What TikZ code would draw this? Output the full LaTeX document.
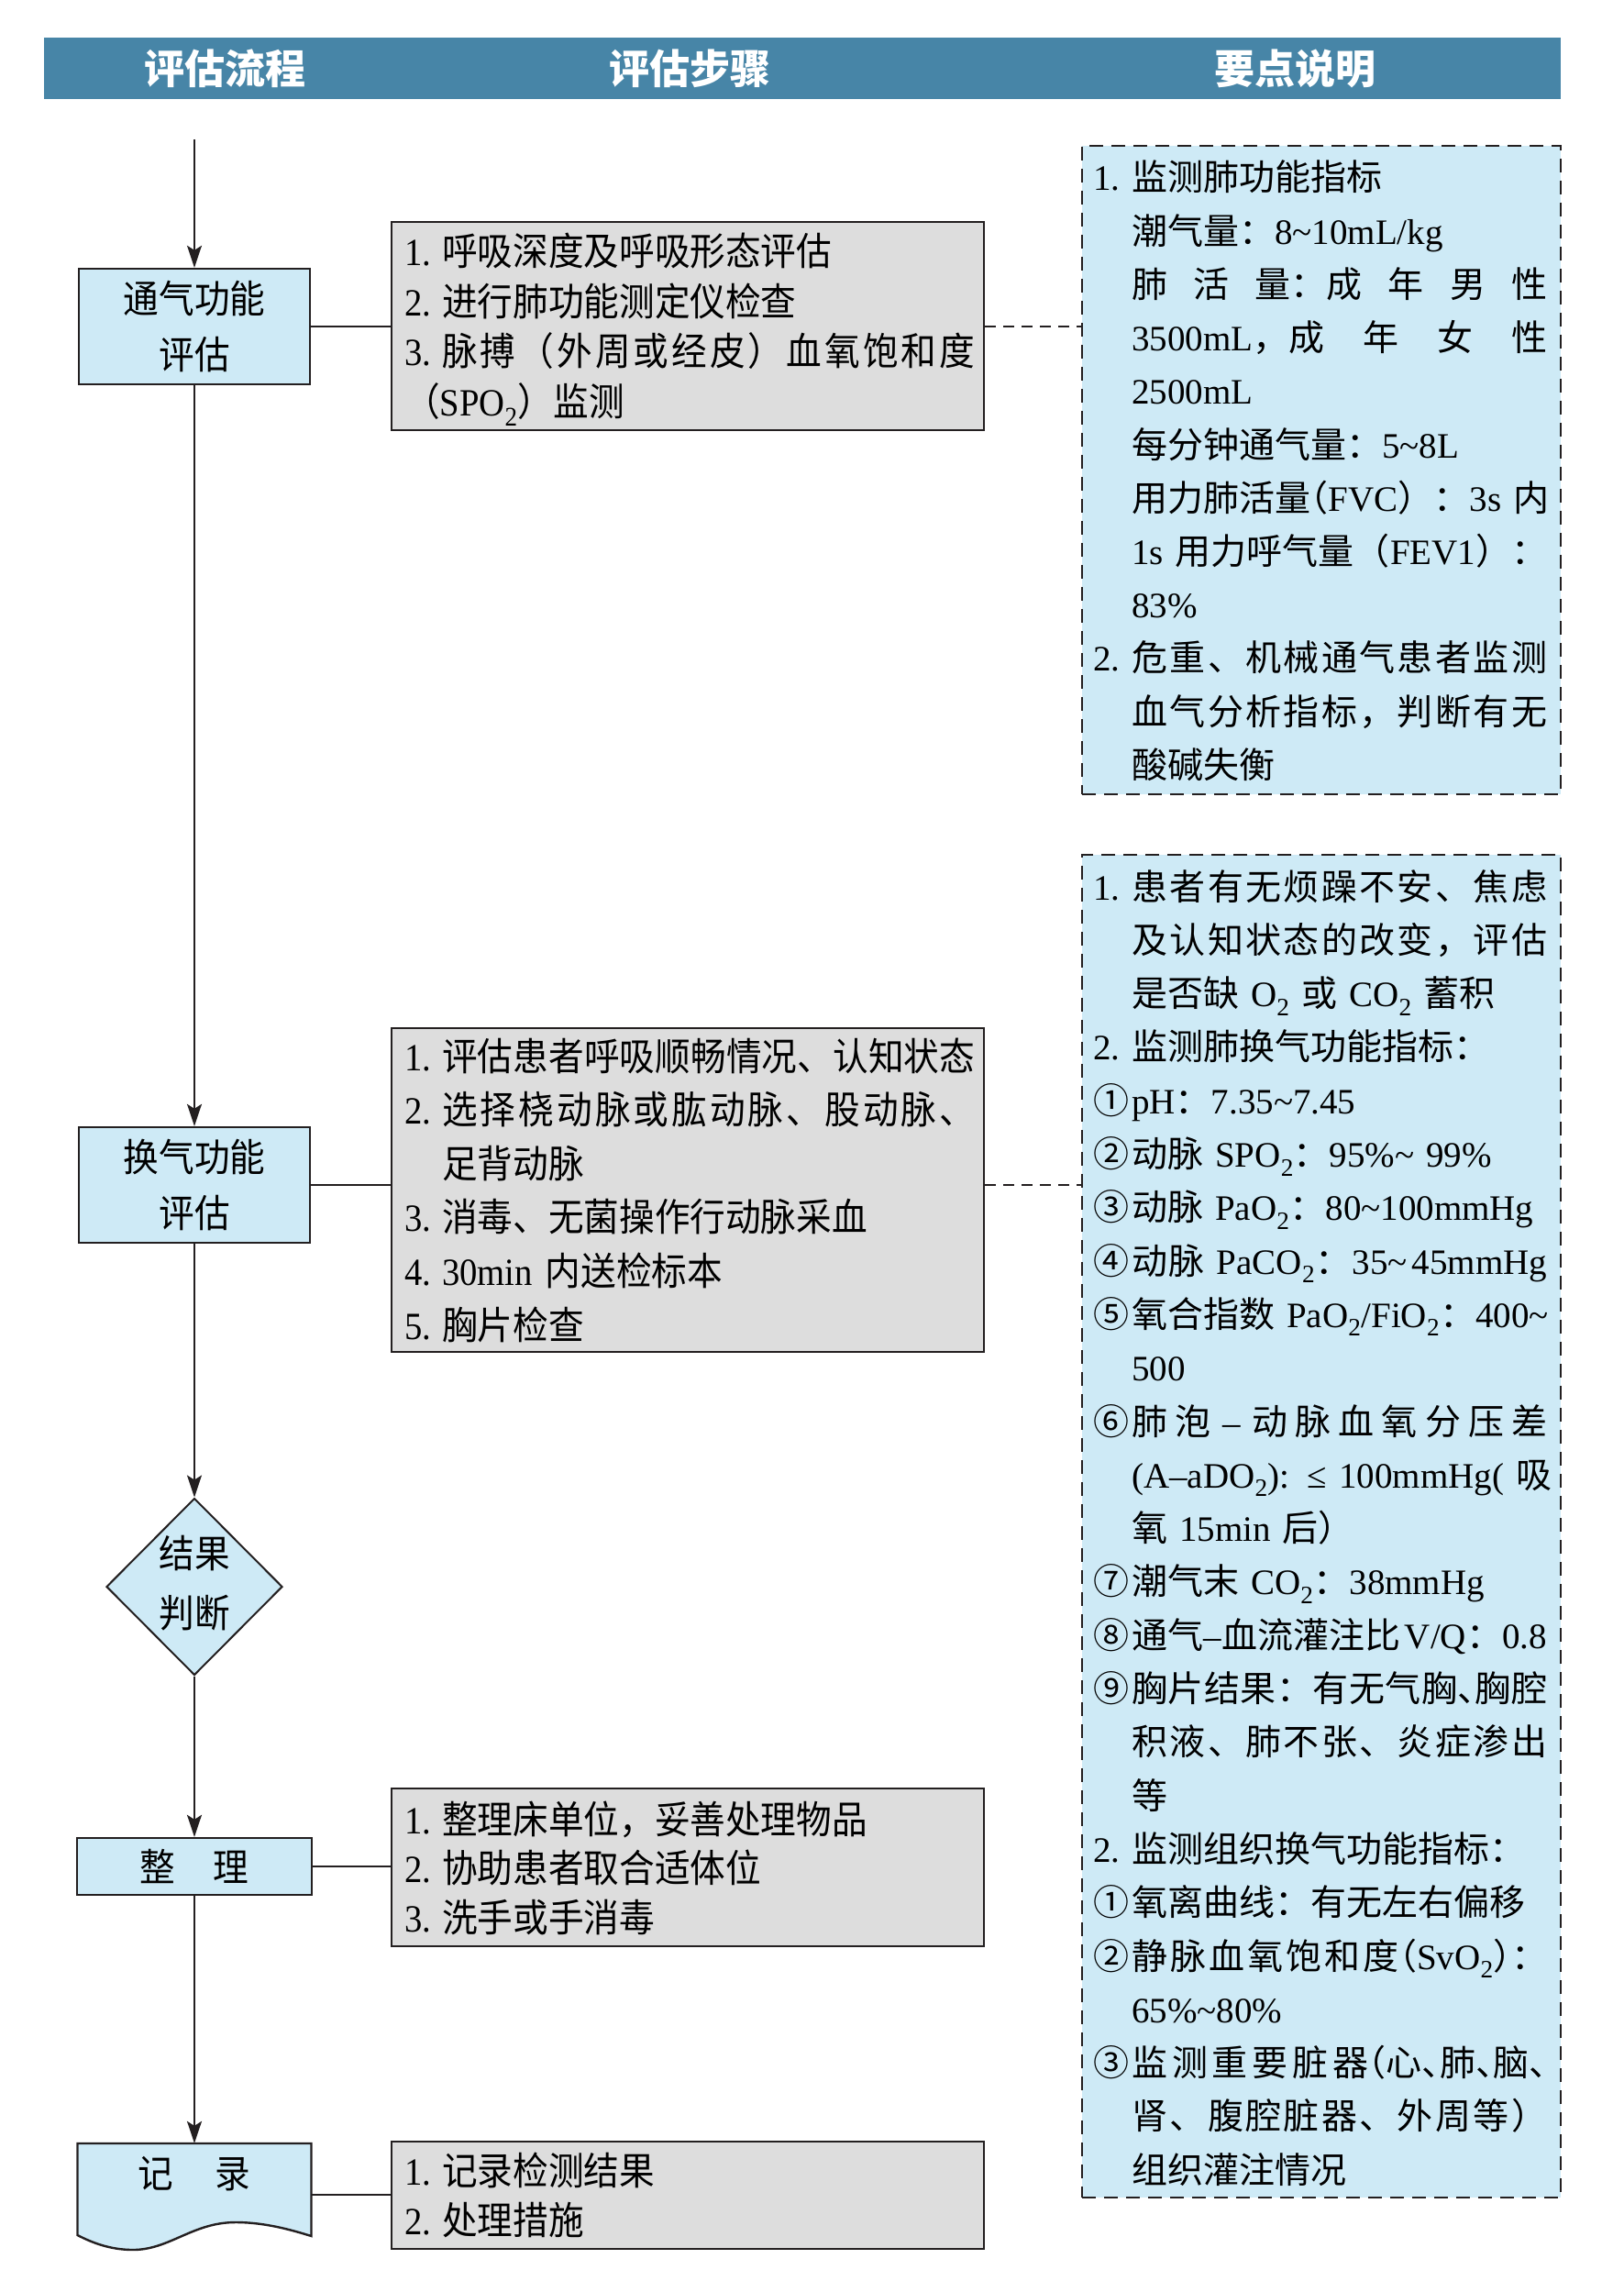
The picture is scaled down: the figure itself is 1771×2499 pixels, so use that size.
\documentclass[tikz,border=0pt]{standalone}
\usepackage{fontspec}
\setmainfont{Liberation Serif}
\newfontfamily\cjkN{Noto Sans CJK SC}
\newfontfamily\cjkG{Noto Sans CJK SC}[FakeStretch=0.92]
\newfontfamily\cjkH{Noto Sans CJK SC}[RawFeature={+halt}]
\newfontfamily\latG{Liberation Serif}[FakeStretch=0.92]
\usetikzlibrary{shapes.geometric,arrows.meta}

% automatic switching between Latin and CJK fonts
\XeTeXinterchartokenstate=1
\chardef\CJKcls=10
\newcount\cjkcnt
\def\setcjkrange#1#2{\cjkcnt=#1\relax
  \loop\XeTeXcharclass\cjkcnt=\CJKcls\relax
  \ifnum\cjkcnt<#2\relax\advance\cjkcnt by 1\relax\repeat}
\setcjkrange{"4E00}{"9FFF}
\setcjkrange{"3000}{"303F}
\setcjkrange{"FF00}{"FFEF}
\setcjkrange{"2460}{"24FF}
\XeTeXcharclass"2013=0
\XeTeXcharclass"2014=0
\XeTeXcharclass"2264=0
\def\curcjk{\cjkN}
\def\curlat{\rmfamily}
\def\cjkglue{\hskip0pt plus 0.25em\relax}
\XeTeXinterchartoks 0 \CJKcls = {\cjkglue\curcjk}
\XeTeXinterchartoks 4095 \CJKcls = {\curcjk}
\XeTeXinterchartoks \CJKcls 0 = {\cjkglue\curlat}
\XeTeXinterchartoks \CJKcls 4095 = {\curlat}
\XeTeXinterchartoks \CJKcls \CJKcls = {\cjkglue}

\newcommand\gset{\latG\def\curcjk{\cjkG}\def\curlat{\latG}}
\newcommand\xNB[1]{\makebox[42pt][l]{#1}}
\newcommand\xNG[1]{\makebox[41pt][l]{#1}}
\newcommand\xJD[1]{\makebox[453pt][s]{#1}}
\newcommand\xJG[1]{\makebox[581pt][s]{#1}}
\newcommand\xID{\hspace*{42pt}}
\newcommand\xIG{\hspace*{41pt}}
\newcommand\xtl{{\char"7E}}
\newcommand\xhp[1]{{\def\curcjk{\cjkH}\cjkH#1}}

\definecolor{hdr}{RGB}{71,133,167}
\definecolor{lb}{RGB}{206,234,246}
\definecolor{gr}{RGB}{221,221,221}
\definecolor{lc}{RGB}{35,31,32}

\begin{document}
\begin{tikzpicture}[x=1pt,y=-1pt,
  line/.style={draw=lc,line width=2pt},
  arr/.style={line,-{Stealth[length=24pt,width=16pt,inset=5pt]}},
  dline/.style={draw=lc,line width=2pt,dash pattern=on 12pt off 8pt},
  bluebox/.style={draw=lc,line width=2.4pt,fill=lb,inner sep=0pt,align=center,
    font=\gset\fontsize{42}{61}\selectfont},
  graybox/.style={draw=lc,line width=2.6pt,fill=gr,inner sep=0pt,minimum width=646pt},
  dashbox/.style={draw=lc,line width=2.2pt,dash pattern=on 15pt off 9pt,fill=lb,
    inner sep=0pt,minimum width=522pt},
  gtext/.style={anchor=base west,inner sep=0pt,text width=622pt,align=left},
  dtext/.style={anchor=base west,inner sep=0pt,text width=495pt,align=left},
  hdrtext/.style={text=white,inner sep=0pt,font=\bfseries\fontsize{44}{50}\selectfont}
]
\useasboundingbox (0,0) rectangle (1771,2499);

% header
\node[fill=hdr,minimum width=1654pt,minimum height=67pt,inner sep=0pt] (hd) at (875,74.5) {};
\node[hdrtext] (h1) at (245,75) {评估流程};
\node[hdrtext] (h2) at (752,75) {评估步骤};
\node[hdrtext] (h3) at (1412,75) {要点说明};

% left column
\coordinate (start) at (212,152);
\node[bluebox,minimum width=252pt,minimum height=126pt] (t1) at (212,356) {通气功能\\评估};
\node[bluebox,minimum width=252pt,minimum height=126pt] (t2) at (212,1292) {换气功能\\评估};
\node[diamond,draw=lc,line width=2pt,fill=lb,minimum width=192pt,minimum height=193pt,inner sep=0pt] (dia) at (212,1730) {};
\node[inner sep=0pt,align=center,font=\gset\fontsize{42}{65}\selectfont] (diat) at (212,1726) {结果\\判断};
\node[bluebox,minimum width=256pt,minimum height=62pt] (t3) at (212,2035) {整\hspace{42pt}理};
\node[inner sep=0pt,minimum width=255pt,minimum height=112pt] (rec) at (212,2393) {};
\draw[draw=lc,line width=2.4pt,fill=lb] (84.5,2337) -- (339.5,2337) -- (339.5,2438)
  .. controls (320,2432) and (290,2423) .. (257,2423)
  .. controls (210,2423) and (185,2453) .. (145,2453)
  .. controls (120,2453) and (100,2445) .. (84.5,2437) -- cycle;
\node[inner sep=0pt,font=\gset\fontsize{42}{61}\selectfont] (rect) at (212,2370) {记\hspace{45pt}录};

% gray step boxes
\node[graybox,minimum height=227pt] (g1) at (750,355.5) {};
\node[graybox,minimum height=353pt] (g2) at (750,1297.5) {};
\node[graybox,minimum height=172pt] (g3) at (750,2036) {};
\node[graybox,minimum height=117pt] (g4) at (750,2393.5) {};

\node[gtext,font=\gset\fontsize{42}{54.4}\selectfont] (gt1) at (441,290) {%
\xNG{1.}呼吸深度及呼吸形态评估\\
\xNG{2.}进行肺功能测定仪检查\\
\xNG{3.}\xJG{脉搏（外周或经皮）血氧饱和度}\\
（SPO\textsubscript{2}）监测};

\node[gtext,font=\gset\fontsize{42}{58.6}\selectfont] (gt2) at (441,1167) {%
\xNG{1.}\xJG{评估患者呼吸顺畅情况、认知状态}\\
\xNG{2.}\xJG{选择桡动脉或肱动脉、股动脉、}\\
\xIG 足背动脉\\
\xNG{3.}消毒、无菌操作行动脉采血\\
\xNG{4.}30min 内送检标本\\
\xNG{5.}胸片检查};

\node[gtext,font=\gset\fontsize{42}{53.5}\selectfont] (gt3) at (441,1999) {%
\xNG{1.}整理床单位，妥善处理物品\\
\xNG{2.}协助患者取合适体位\\
\xNG{3.}洗手或手消毒};

\node[gtext,font=\gset\fontsize{42}{54}\selectfont] (gt4) at (441,2382) {%
\xNG{1.}记录检测结果\\
\xNG{2.}处理措施};

% dashed note boxes
\node[dashbox,minimum height=707pt] (d1) at (1441,512.5) {};
\node[dashbox,minimum height=1464pt] (d2) at (1441,1664) {};

\node[dtext,font=\fontsize{39}{58.2}\selectfont] (dt1) at (1192,208) {%
\xNB{1.}监测肺功能指标\\
\xID 潮气量：8\xtl 10mL/kg\\
\xID\xJD{肺活量\mbox{：}成年男性}\\
\xID\xJD{\mbox{3500mL，}成年女性}\\
\xID 2500mL\\
\xID 每分钟通气量：5\xtl 8L\\
\xID\xJD{用力肺活量\xhp{（}FVC）：3s 内}\\
\xID\xJD{1s 用力呼气量（FEV1）：}\\
\xID 83\%\\
\xNB{2.}\xJD{危重、机械通气患者监测}\\
\xID\xJD{血气分析指标，判断有无}\\
\xID 酸碱失衡};

\node[dtext,font=\fontsize{39}{58.3}\selectfont] (dt2) at (1192,981) {%
\xNB{1.}\xJD{患者有无烦躁不安、焦虑}\\
\xID\xJD{及认知状态的改变，评估}\\
\xID 是否缺 O\textsubscript{2} 或 CO\textsubscript{2} 蓄积\\
\xNB{2.}监测肺换气功能指标：\\
\xNB{①\hspace{8pt}}pH：7.35\xtl 7.45\\
\xNB{②}动脉 SPO\textsubscript{2}：95\%\xtl\ 99\%\\
\xNB{③}动脉 PaO\textsubscript{2}：80\xtl 100mmHg\\
\xNB{④}\xJD{动脉 PaCO\textsubscript{2}：35\xtl\hspace{5pt}45mmHg}\\
\xNB{⑤}\xJD{氧合指数 PaO\textsubscript{2}/FiO\textsubscript{2}：400\xtl}\\
\xID 500\\
\xNB{⑥}\xJD{肺泡 – 动脉血氧分压差}\\
\xID\xJD{(A–aDO\textsubscript{2}): ≤ 100mmHg( 吸}\\
\xID 氧 15min 后）\\
\xNB{⑦}潮气末 CO\textsubscript{2}：38mmHg\\
\xNB{⑧}\xJD{通气–血流灌注比\hspace{4pt}V/Q：0.8}\\
\xNB{⑨}\xJD{胸片结果：有无气胸\xhp{、}胸腔}\\
\xID\xJD{积液、肺不张、炎症渗出}\\
\xID 等\\
\xNB{2.}监测组织换气功能指标：\\
\xNB{①}氧离曲线：有无左右偏移\\
\xNB{②}\xJD{静脉血氧饱和度\xhp{（}SvO\textsubscript{2}\xhp{）}：}\\
\xID 65\%\xtl 80\%\\
\xNB{③}\xJD{监测重要脏器\xhp{（}心\xhp{、}肺\xhp{、}脑\xhp{、}}\\
\xID\xJD{肾、腹腔脏器、外周等）}\\
\xID 组织灌注情况};

% connectors
\draw[arr] (start) -- (t1.north);
\draw[arr] (t1.south) -- (t2.north);
\draw[arr] (t2.south) -- (dia.north);
\draw[arr] (dia.south) -- (t3.north);
\draw[arr] (t3.south) -- (rec.north);
\draw[line] (t1.east) -- (t1.east -| g1.west);
\draw[line] (t2.east) -- (t2.east -| g2.west);
\draw[line] (t3.east) -- (t3.east -| g3.west);
\draw[line] (rec.east) -- (rec.east -| g4.west);
\draw[dline] (t1.east -| g1.east) -- (t1.east -| d1.west);
\draw[dline] (t2.east -| g2.east) -- (t2.east -| d2.west);
\end{tikzpicture}
\end{document}
